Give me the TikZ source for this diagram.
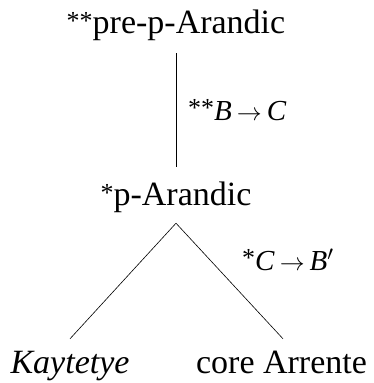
\documentclass[tikz,border=0pt]{standalone}
\usepackage{fontspec}
\setmainfont{Liberation Serif}
\newcommand{\smallstars}[1]{\raisebox{4pt}{\fontsize{26}{26}\selectfont #1}}
\newcommand{\rarrow}{\hspace{5pt}{\fontsize{26}{26}\selectfont$\rightarrow$}\hspace{5pt}}
\begin{document}
\begin{tikzpicture}[x=1pt,y=-1pt,
  lang/.style={inner sep=0pt,anchor=base,font=\fontsize{34}{38}\selectfont,text height=23pt,text depth=7pt},
  rule/.style={inner sep=0pt,anchor=base west,font=\fontsize{29}{34}\selectfont},
  branch/.style={draw=black,line width=0.6pt}]
\useasboundingbox (0,0) rectangle (373,383);
\node[lang] (pre) at (176,33) {\smallstars{**}pre-p-Arandic};
\node[lang] (pa) at (176,205) {\smallstars{*}p-Arandic};
\node[lang] (kay) at (70,373) {\textit{Kaytetye}};
\node[lang] (core) at (281.5,373) {core Arrente};
\node[rule] (r1) at (188,120) {\smallstars{**}\textit{B}\rarrow\textit{C}};
\node[rule] (r2) at (242,270) {\smallstars{*}\textit{C}\rarrow\textit{B}$'$};
\coordinate (apex) at ([yshift=-11pt]pa.south);
\coordinate (kf) at ([yshift=11pt]kay.north);
\coordinate (cf) at ([yshift=11pt,xshift=1.5pt]core.north);
\draw[branch,shorten <=13pt,shorten >=15pt] (pre.south) -- (pa.north);
\draw[branch] (apex) -- (kf);
\draw[branch] (apex) -- (cf);
\end{tikzpicture}
\end{document}
